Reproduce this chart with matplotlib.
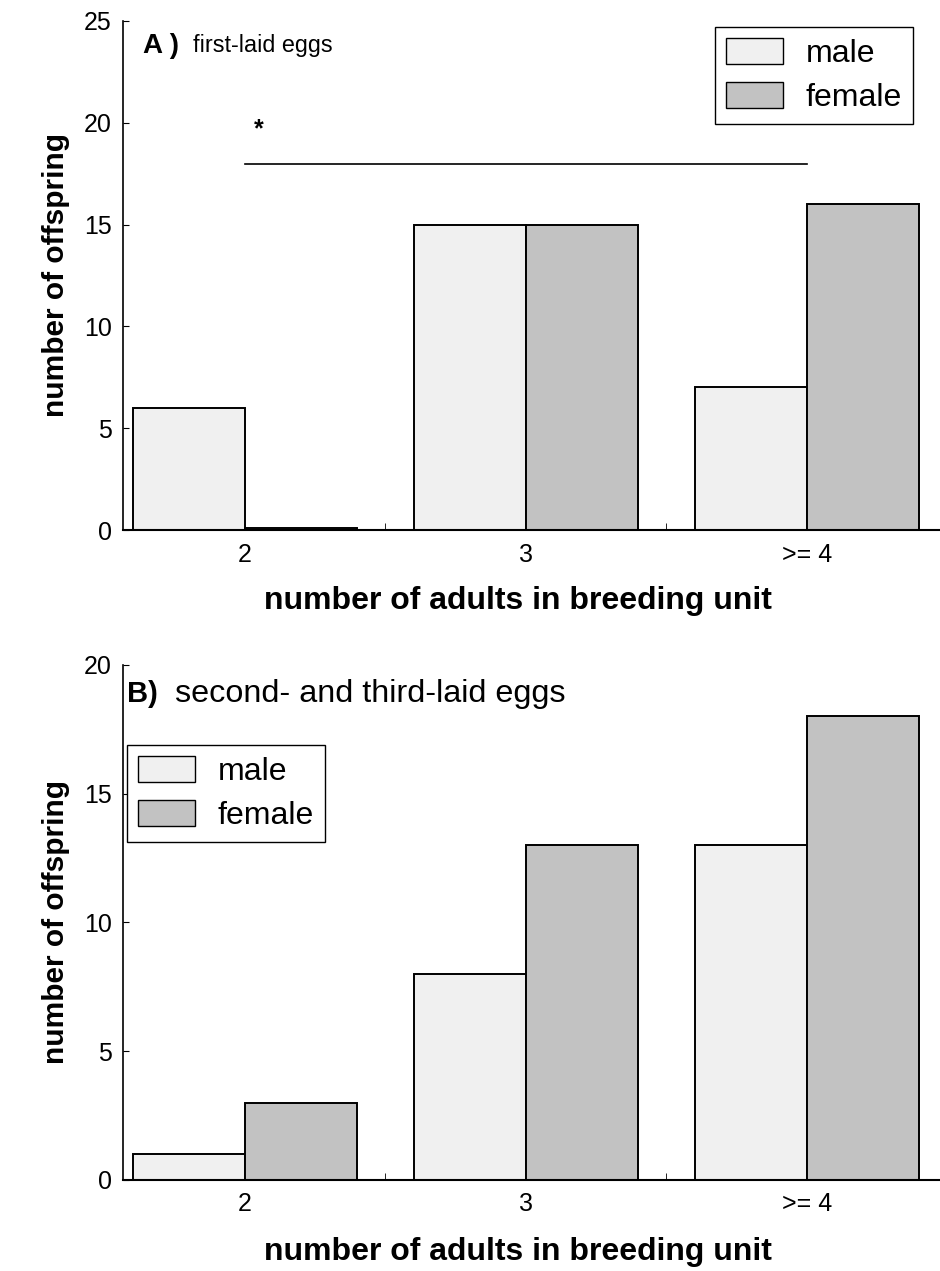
import matplotlib.pyplot as plt
from matplotlib.patches import Patch

plt.rcParams['font.family'] = ['Liberation Sans', 'DejaVu Sans']

groups = [2, 3, 4]
group_labels = ['2', '3', '>= 4']
male_a = [6, 15, 7]
female_a = [0.1, 15, 16]
male_b = [1, 8, 13]
female_b = [3, 13, 18]

male_color = '#f0f0f0'
female_color = '#c2c2c2'
width = 0.4


def draw_panel(ax, male, female, ymax):
    xm = [g - width / 2 for g in groups]
    xf = [g + width / 2 for g in groups]
    ax.bar(xm, male, width, color=male_color, edgecolor='black', linewidth=1.4)
    ax.bar(xf, female, width, color=female_color, edgecolor='black', linewidth=1.4)
    ax.set_xlim(1.566, 4.473)
    ax.set_ylim(0, ymax)
    ax.set_yticks(range(0, ymax + 1, 5))
    ax.set_xticks(groups)
    ax.set_xticklabels(group_labels)
    ax.set_xticks([2.5, 3.5], minor=True)
    ax.tick_params(axis='x', which='major', length=0, labelsize=18, pad=9)
    ax.tick_params(axis='x', which='minor', direction='in', length=5)
    ax.tick_params(axis='y', direction='in', length=4, labelsize=18, pad=8)
    ax.spines['top'].set_visible(False)
    ax.spines['right'].set_visible(False)
    ax.spines['left'].set_linewidth(1.2)
    ax.spines['bottom'].set_linewidth(1.5)
    ax.set_xlabel('number of adults in breeding unit', fontsize=23, fontweight='bold', labelpad=12)
    ax.xaxis.set_label_coords(0.4835, -0.11)
    ax.set_ylabel('number of offspring', fontsize=21.5, fontweight='bold', labelpad=10)


fig = plt.figure(figsize=(9.4, 12.71), dpi=100)
ax1 = fig.add_axes([0.1309, 0.583, 0.869, 0.4005])
ax2 = fig.add_axes([0.1309, 0.0716, 0.869, 0.4052])

draw_panel(ax1, male_a, female_a, 25)
draw_panel(ax2, male_b, female_b, 20)

handles = [Patch(facecolor=male_color, edgecolor='black', label='male'),
           Patch(facecolor=female_color, edgecolor='black', label='female')]

leg_kw = dict(fontsize=23, fancybox=False, edgecolor='black', framealpha=1,
              handlelength=1.78, handleheight=0.87, handletextpad=0.7,
              borderpad=0.35, labelspacing=0.4, borderaxespad=0)
leg1 = ax1.legend(handles=handles, loc='upper right', bbox_to_anchor=(0.967, 0.988), **leg_kw)
leg1.get_frame().set_linewidth(1.0)
leg2 = ax2.legend(handles=handles, loc='upper left', bbox_to_anchor=(0.005, 0.845), **leg_kw)
leg2.get_frame().set_linewidth(1.0)

ax1.text(0.0245, 0.951, 'A )', transform=ax1.transAxes, fontsize=20, fontweight='bold', va='center')
ax1.text(0.0857, 0.951, 'first-laid eggs', transform=ax1.transAxes, fontsize=16.8, va='center')
ax1.plot([2, 4], [18, 18], color='black', linewidth=1.2)
ax1.text(2.05, 19.7, '*', fontsize=18, fontweight='bold', ha='center', va='center')

ax2.text(0.005, 0.943, 'B)', transform=ax2.transAxes, fontsize=21, fontweight='bold', va='center')
ax2.text(0.064, 0.943, 'second- and third-laid eggs', transform=ax2.transAxes, fontsize=23.3, va='center')

fig.savefig('out.png', dpi=100)
